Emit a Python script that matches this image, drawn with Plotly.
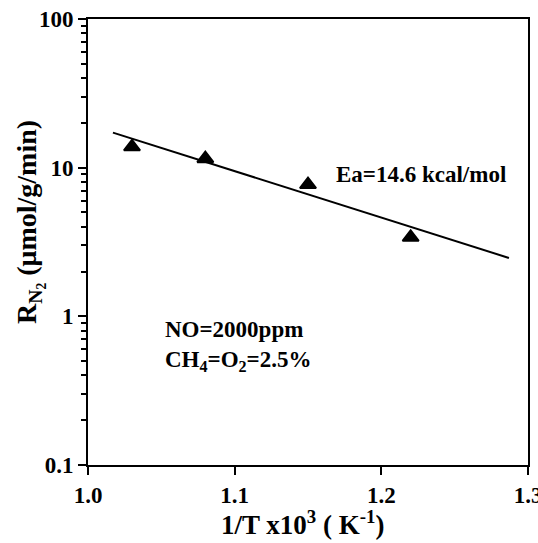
import plotly.graph_objects as go

# Rate of N2 formation vs. inverse temperature (Arrhenius plot)
inv_t = [1.03, 1.08, 1.15, 1.22]          # 1/T x 10^3 (K^-1)
rate_n2 = [13.8, 11.5, 7.7, 3.4]          # umol/g/min

# Arrhenius fit line end points
fit_x = [1.017, 1.287]
fit_y = [17.2, 2.47]

x_ticks = [1.0, 1.1, 1.2, 1.3]
x_tick_labels = ["1.0", "1.1", "1.2", "1.3"]
y_ticks = [0.1, 1, 10, 100]
y_tick_labels = ["0.1", "1", "10", "100"]
y_minor = [m * 10 ** k for k in (-1, 0, 1) for m in range(2, 10)]

FONT = "Liberation Serif, Times New Roman, serif"


def bold(s):
    return f"<b>{s}</b>"


fig = go.Figure()
fig.add_trace(go.Scatter(
    x=fit_x, y=fit_y, mode="lines",
    line=dict(color="black", width=2),
    showlegend=False, hoverinfo="skip",
))
fig.add_trace(go.Scatter(
    x=inv_t, y=rate_n2, mode="markers",
    marker=dict(symbol="triangle-up", size=14, color="black",
                line=dict(color="black", width=2)),
    showlegend=False,
))

axis_common = dict(
    showline=True, linecolor="black", linewidth=2, mirror=True,
    ticks="outside", tickcolor="black", tickwidth=2, ticklen=8,
    showgrid=False, zeroline=False, ticklabeloverflow="allow",
    automargin=False,
    tickfont=dict(family=FONT, size=23, color="black", weight="bold"),
)

fig.update_xaxes(
    range=[1.0, 1.3], tickvals=x_ticks,
    ticktext=[bold(t) for t in x_tick_labels], **axis_common,
)
fig.update_yaxes(
    type="log", range=[-1, 2], tickvals=y_ticks,
    ticktext=[bold(t) for t in y_tick_labels],
    minor=dict(ticks="outside", tickvals=y_minor, ticklen=5, tickwidth=1.5,
               tickcolor="black", showgrid=False),
    **axis_common,
)

text_font = dict(family=FONT, size=23, color="black", weight="bold")
annotations = [
    dict(x=1.168, y=0.955, xref="x", yref="y", text=bold("Ea=14.6 kcal/mol"),
         xanchor="left", yanchor="middle", showarrow=False, font=text_font),
    dict(x=1.051, y=-0.088, xref="x", yref="y", text=bold("NO=2000ppm"),
         xanchor="left", yanchor="middle", showarrow=False, font=text_font),
    dict(x=1.051, y=-0.30, xref="x", yref="y",
         text=bold("CH<sub>4</sub>=O<sub>2</sub>=2.5%"),
         xanchor="left", yanchor="middle", showarrow=False, font=text_font),
    dict(x=302, y=543 - 523, xref="paper", yref="paper",
         text=bold("1/T x10<sup>3</sup> ( K<sup>-1</sup>)"),
         xanchor="center", yanchor="middle",
         showarrow=False, font=dict(family=FONT, size=27, color="black", weight="bold")),
    dict(x=30, y=543 - 222, xref="paper", yref="paper",
         text=bold("R<sub>N<sub>2</sub></sub> (μmol/g/min)"), textangle=-90,
         xanchor="center", yanchor="middle",
         showarrow=False, font=dict(family=FONT, size=28, color="black", weight="bold")),
]

# place the axis titles by pixel position in paper coordinates
L, R, T, B = 88, 10, 19, 78
W, H = 538, 543
pw, ph = W - L - R, H - T - B
for a in annotations[3:]:
    a["x"] = (a["x"] - L) / pw
    a["y"] = (a["y"] - B) / ph

fig.update_layout(
    width=W, height=H,
    margin=dict(l=L, r=R, t=T, b=B),
    plot_bgcolor="white", paper_bgcolor="white",
    annotations=annotations,
)

fig.write_html("out.html")
